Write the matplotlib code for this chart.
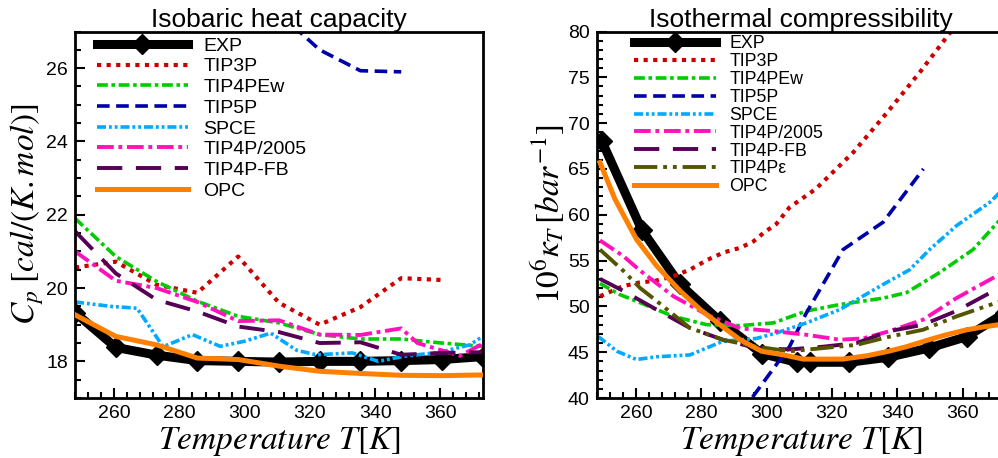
import matplotlib
matplotlib.use("Agg")
import matplotlib.pyplot as plt
from matplotlib.ticker import MultipleLocator

plt.rcParams['font.family'] = ['Liberation Sans', 'DejaVu Sans']
plt.rcParams['mathtext.fontset'] = 'stix'

# ---------------- Isobaric heat capacity (cal/(K.mol)) ----------------
T_grid = [248, 260.5, 273, 285.5, 298, 310.5, 323, 335.5, 348, 360.5, 373]
cp_exp = [19.33, 18.38, 18.17, 18.02, 18.0, 17.98, 18.0, 18.0, 18.02, 18.05, 18.13]
cp_tip3p = [20.56, 20.72, 20.09, 19.87, 20.86, 19.6, 19.0, 19.48, 20.27, 20.22]
cp_tip4pew = [21.9, 20.86, 20.18, 19.64, 19.23, 19.05, 18.73, 18.61, 18.61, 18.5, 18.41]
T_tip5p_cp = [310.5, 323, 335.5, 348]
cp_tip5p = [27.5, 26.5, 25.93, 25.9]
T_spce_cp = [248, 259, 267, 275, 284, 292.5, 300, 308, 316, 322, 333, 341, 349, 360, 369, 373]
cp_spce = [19.62, 19.5, 19.45, 18.4, 18.73, 18.41, 18.55, 18.77, 18.3, 18.18, 18.23, 18.0,
           18.14, 18.25, 18.45, 18.68]
T_2005_cp = [248, 260.5, 273, 285.5, 298, 310.5, 323, 335.5, 348, 353, 366, 373]
cp_tip4p2005 = [21.0, 20.2, 20.0, 19.62, 19.1, 19.12, 18.73, 18.72, 18.9, 18.5, 18.15, 18.48]
cp_tip4pfb = [21.55, 20.4, 19.68, 19.36, 18.95, 18.8, 18.5, 18.52, 18.18, 18.23, 18.25]
cp_opc = [19.27, 18.68, 18.45, 18.09, 18.05, 17.87, 17.73, 17.67, 17.62, 17.61, 17.63]

# ---------------- Isothermal compressibility (1e-6 / bar) ----------------
T_exp_k = [249.5, 261.8, 273.5, 285.7, 298.5, 309.2, 313.3, 325.3, 337.3, 349.6, 361.3, 373]
k_exp = [68.1, 58.35, 52.4, 48.4, 44.85, 43.9, 43.9, 43.9, 44.45, 45.45, 46.7, 49.3]
T_tip3p_k = [249, 256, 261, 266, 271.5, 276.5, 282, 287, 292, 296, 299, 303, 307, 315,
             326.5, 337, 347, 356, 360.5]
k_tip3p = [51.1, 52.2, 52.6, 52.8, 53.3, 54.0, 55.1, 55.9, 56.4, 57.1, 58.0, 59.0, 60.8,
           62.8, 66.8, 71.2, 75.6, 79.8, 82.0]
T_tip4pew_k = [249, 255, 261.3, 271.5, 281.7, 291.9, 302.1, 312.2, 322.4, 335.7, 342.8,
               353, 363.2, 370.3, 373]
k_tip4pew = [52.5, 51.3, 50.4, 48.9, 48.0, 47.9, 48.2, 49.5, 50.2, 50.9, 51.5, 53.7, 56.2,
             59.0, 60.0]
T_tip5p_k = [285.5, 295.5, 307, 312.2, 323.4, 335.7, 341, 348]
k_tip5p = [35.0, 40.0, 45.6, 49.3, 56.2, 59.2, 61.7, 65.0]
T_spce_k = [248.5, 254.2, 260.2, 266.3, 276.5, 286.7, 296.9, 303, 312.2, 322.4, 335.7,
            343.8, 349.9, 358.1, 368.3, 373]
k_spce = [46.7, 45.1, 44.2, 44.5, 44.7, 46.2, 46.5, 47.1, 48.2, 49.65, 52.4, 54.0, 56.2,
          58.8, 61.35, 63.0]
T_2005_k = [249, 256.1, 261.3, 271.5, 281.7, 291.9, 302.1, 312.2, 322.4, 329.5, 337.7,
            347.9, 358.1, 370.3, 373]
k_tip4p2005 = [57.2, 55.5, 53.9, 51.1, 49.1, 47.6, 47.3, 46.9, 46.36, 46.5, 47.3, 48.55,
               50.9, 53.3, 53.8]
T_fb_k = [249, 256.1, 266.3, 276.5, 286.7, 296.9, 307.1, 317.3, 327.5, 337.7, 347.9,
          358.1, 370.3, 373]
k_tip4pfb = [53.0, 51.7, 49.65, 47.65, 46.35, 45.45, 45.3, 45.6, 46.0, 47.3, 48.0, 49.5,
             51.85, 52.4]
T_eps_k = [249, 256.1, 261.3, 266.3, 276.5, 286.7, 296.9, 307.1, 317.3, 327.5, 337.7,
           347.9, 358.1, 370.3, 373]
k_tip4peps = [56.2, 53.9, 52.0, 50.6, 47.65, 46.35, 45.6, 45.1, 45.45, 45.8, 46.7, 47.45,
              48.9, 50.4, 50.7]
T_opc_k = [249, 253.6, 260.2, 266.4, 273.5, 279.7, 285.7, 291.9, 298.5, 305.2, 311.2,
           317.4, 323.4, 330.6, 337.3, 342.8, 349.6, 355, 361.3, 366.2, 373]
k_opc = [65.7, 61.7, 57.3, 54.4, 51.7, 49.65, 48.0, 46.36, 45.1, 44.7, 44.25, 44.24, 44.25,
         44.6, 45.1, 45.6, 46.35, 46.9, 47.45, 47.75, 48.1]

styles = {
    'EXP': dict(color='black', lw=6.5, marker='D', ms=10, zorder=2),
    'TIP3P': dict(color='#cc0000', lw=3, ls=(0, (1, 1.3))),
    'TIP4PEw': dict(color='#00cc00', lw=2.6, ls=(0, (3, 1, 1, 1))),
    'TIP5P': dict(color='#0000aa', lw=2.6, ls=(0, (3.5, 1.8))),
    'SPCE': dict(color='#00aaff', lw=2.6, ls=(0, (2.5, 0.8, 0.8, 0.8, 0.8, 0.8))),
    'TIP4P/2005': dict(color='#ff11bb', lw=2.8, ls=(0, (4.3, 1.2, 1, 1.2))),
    'TIP4P-FB': dict(color='#550055', lw=2.8, ls=(0, (6.5, 3.5))),
    'TIP4Pε': dict(color='#555500', lw=2.8, ls=(0, (6, 1.5, 1, 1.5, 1, 1.5))),
    'OPC': dict(color='#ff8000', lw=3.6, zorder=4),
}

fig = plt.figure(figsize=(9.98, 4.58), dpi=100)
ax1 = fig.add_axes([0.0752, 0.1310, 0.4085, 0.8002])
ax2 = fig.add_axes([0.5979, 0.1310, 0.4092, 0.8002])

ax1.plot(T_grid, cp_exp, label='EXP', **styles['EXP'])
ax1.plot(T_grid[:10], cp_tip3p, label='TIP3P', **styles['TIP3P'])
ax1.plot(T_grid, cp_tip4pew, label='TIP4PEw', **styles['TIP4PEw'])
ax1.plot(T_tip5p_cp, cp_tip5p, label='TIP5P', **styles['TIP5P'])
ax1.plot(T_spce_cp, cp_spce, label='SPCE', **styles['SPCE'])
ax1.plot(T_2005_cp, cp_tip4p2005, label='TIP4P/2005', **styles['TIP4P/2005'])
ax1.plot(T_grid, cp_tip4pfb, label='TIP4P-FB', **styles['TIP4P-FB'])
ax1.plot(T_grid, cp_opc, label='OPC', **styles['OPC'])

ax2.plot(T_exp_k, k_exp, label='EXP', **styles['EXP'])
ax2.plot(T_tip3p_k, k_tip3p, label='TIP3P', **styles['TIP3P'])
ax2.plot(T_tip4pew_k, k_tip4pew, label='TIP4PEw', **styles['TIP4PEw'])
ax2.plot(T_tip5p_k, k_tip5p, label='TIP5P', **styles['TIP5P'])
ax2.plot(T_spce_k, k_spce, label='SPCE', **styles['SPCE'])
ax2.plot(T_2005_k, k_tip4p2005, label='TIP4P/2005', **styles['TIP4P/2005'])
ax2.plot(T_fb_k, k_tip4pfb, label='TIP4P-FB', **styles['TIP4P-FB'])
ax2.plot(T_eps_k, k_tip4peps, label='TIP4Pε', **styles['TIP4Pε'])
ax2.plot(T_opc_k, k_opc, label='OPC', **styles['OPC'])

ax1.set_xlim(248, 373)
ax1.set_ylim(17, 27)
ax1.yaxis.set_major_locator(MultipleLocator(2))
ax1.yaxis.set_minor_locator(MultipleLocator(0.5))
ax1.set_title('Isobaric heat capacity', fontsize=19, pad=3)
ax1.set_ylabel(r'$C_p\;[cal/(K.mol)]$', fontsize=24, labelpad=0)

ax2.set_xlim(248, 373)
ax2.set_ylim(40, 80)
ax2.yaxis.set_major_locator(MultipleLocator(5))
ax2.yaxis.set_minor_locator(MultipleLocator(1))
ax2.set_title('Isothermal compressibility', fontsize=19, pad=3)
ax2.set_ylabel(r'$10^6\kappa_T\,[bar^{-1}]$', fontsize=24, labelpad=0)

for ax in (ax1, ax2):
    ax.xaxis.set_major_locator(MultipleLocator(20))
    ax.xaxis.set_minor_locator(MultipleLocator(4))
    ax.set_xlabel(r'$Temperature\ T[K]$', fontsize=24, labelpad=2)
    ax.tick_params(which='both', direction='in', top=False, right=False,
                   labelsize=14, width=1.5)
    ax.tick_params(which='major', length=7, pad=5)
    ax.tick_params(which='minor', length=4)
    for sp in ax.spines.values():
        sp.set_linewidth(2)

ax1.legend(loc='upper left', bbox_to_anchor=(0.053, 0.985), frameon=False,
           fontsize=14, handlelength=4.7, handletextpad=0.8, labelspacing=0.16,
           borderpad=0, borderaxespad=0)
ax2.legend(loc='upper left', bbox_to_anchor=(0.092, 0.99), frameon=False,
           fontsize=12.8, handlelength=4.6, handletextpad=0.75, labelspacing=0.05,
           borderpad=0, borderaxespad=0)

fig.savefig('out.png', dpi=100)
